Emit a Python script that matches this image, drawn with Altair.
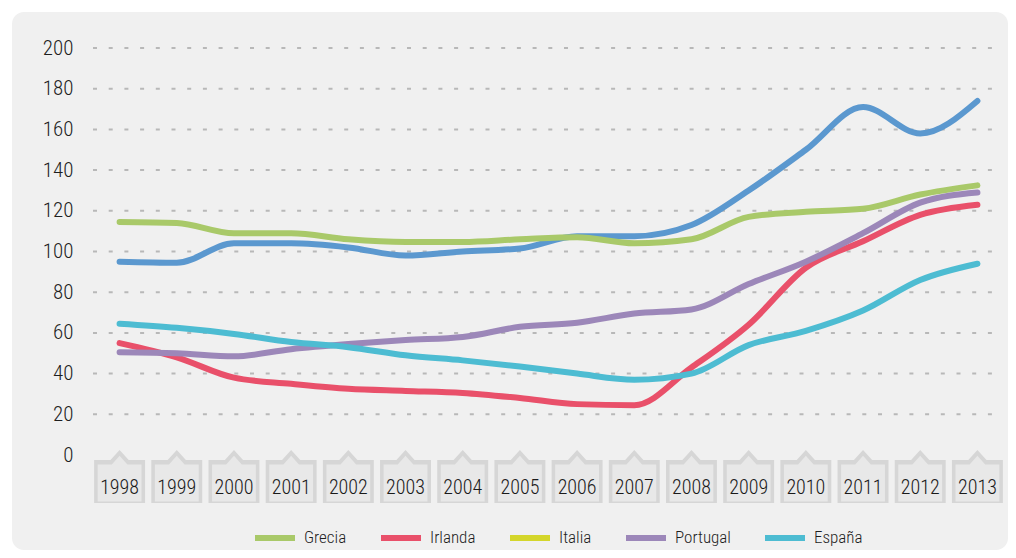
import altair as alt
import pandas as pd

years = [str(y) for y in range(1998, 2014)]
grecia = [114.5, 114, 109, 109, 106, 104.7, 104.7, 106, 107, 104, 106, 117, 119.5, 121, 128, 132.5]
irlanda = [55, 48, 38, 35, 32.5, 31.5, 30.5, 28, 25, 24.5, 43, 64, 92, 105, 118, 123]
portugal = [50.5, 50, 48.5, 52, 54.5, 56.5, 58, 63, 65, 69.5, 71.5, 84, 95, 109, 124, 129]
espana = [64.5, 62.5, 59.5, 55.5, 53, 49, 46.5, 43.5, 40, 37, 40, 54, 61, 71, 86, 94]
azul = [95, 94.5, 104, 104, 102, 98, 100, 101.5, 107.5, 107.5, 113, 130, 150, 171, 158, 174]

legend_names = ["Grecia", "Irlanda", "Italia", "Portugal", "España"]
legend_colors = ["#a9c969", "#e9506a", "#d4d62b", "#9c87b9", "#4dbcd2"]
azul_color = "#5b98cf"
grid_values = [20, 40, 60, 80, 100, 120, 140, 160, 180, 200]
y_ticks = [0, 20, 40, 60, 80, 100, 120, 140, 160, 180, 200]

FONT = "Roboto Condensed, Liberation Sans Narrow, Roboto, sans-serif"

rows = []
for name, vals in [("Grecia", grecia), ("Irlanda", irlanda), ("Portugal", portugal), ("España", espana)]:
    for y, v in zip(years, vals):
        rows.append({"year": y, "serie": name, "valor": v})
df = pd.DataFrame(rows)
df_azul = pd.DataFrame({"year": years, "valor": azul})
df_years = pd.DataFrame({"year": years})
df_grid = pd.DataFrame({"g": grid_values})

xscale = alt.Scale(type="point", padding=0.5, domain=years)
yscale = alt.Scale(domain=[0, 200], nice=False, zero=True)
yaxis = alt.Axis(values=y_ticks, domain=False, ticks=False, grid=False, zindex=2,
                 labelFontSize=21, labelColor="#1e1e1e", labelFont=FONT, labelFontWeight=300,
                 labelPadding=18, title=None)

panel = alt.Chart(alt.Data(values=[{"a": 1}])).mark_rect(
    color="#f0f0f0", cornerRadius=12
).encode(x=alt.value(-79), x2=alt.value(917), y=alt.value(-36), y2=alt.value(502))

grid = alt.Chart(df_grid).mark_rule(
    color="#b8b8b8", strokeWidth=2, strokeDash=[4, 11.7]
).encode(
    y=alt.Y("g:Q", scale=yscale, axis=yaxis),
    x=alt.value(2), x2=alt.value(910),
)

tab_path = "M -0.98 -0.69 L -0.35 -0.69 L 0 -1.08 L 0.35 -0.69 L 0.98 -0.69 L 0.98 0.96 L -0.98 0.96 Z"
tabs_outer = alt.Chart(df_years).mark_point(
    shape=tab_path, filled=True, color="#d6d6d6", opacity=1, size=2704
).encode(x=alt.X("year:O", scale=xscale, axis=None), y=alt.value(430))
tabs_inner = alt.Chart(df_years).mark_point(
    shape=tab_path, filled=True, color="#e8e8e8", opacity=1, size=2000
).encode(x=alt.X("year:O", scale=xscale, axis=None), y=alt.value(432))

labels = alt.Chart(df_years).mark_text(
    fontSize=20, font=FONT, fontWeight=300, color="#1a1a1a", baseline="middle"
).encode(x=alt.X("year:O", scale=xscale, axis=None), y=alt.value(440), text="year:N")

line_azul = alt.Chart(df_azul).mark_line(
    interpolate="monotone", strokeWidth=6, strokeCap="round", color=azul_color
).encode(
    x=alt.X("year:O", scale=xscale, axis=None),
    y=alt.Y("valor:Q", scale=yscale, axis=yaxis),
)

lines = alt.Chart(df).mark_line(
    interpolate="monotone", strokeWidth=6, strokeCap="round"
).encode(
    x=alt.X("year:O", scale=xscale, axis=None),
    y=alt.Y("valor:Q", scale=yscale, axis=yaxis),
    color=alt.Color("serie:N",
                    scale=alt.Scale(domain=legend_names, range=legend_colors),
                    legend=alt.Legend(
                        orient="none", legendX=161, legendY=467, direction="horizontal",
                        title=None, symbolType="stroke", symbolSize=1600,
                        symbolStrokeWidth=6, labelFontSize=17, labelFont=FONT,
                        labelFontWeight=300,
                        labelColor="#1e1e1e", columnPadding=22, labelOffset=6,
                        padding=0)),
    order=alt.Order("year:O"),
)

chart = alt.layer(panel, grid, tabs_outer, tabs_inner, labels, line_azul, lines).properties(
    width=915, height=407,
    padding={"left": 4, "top": 4, "right": 0, "bottom": 0},
    background="white",
).configure_view(stroke=None)

chart.save("out.html", embed_options={"renderer": "svg", "actions": False})
